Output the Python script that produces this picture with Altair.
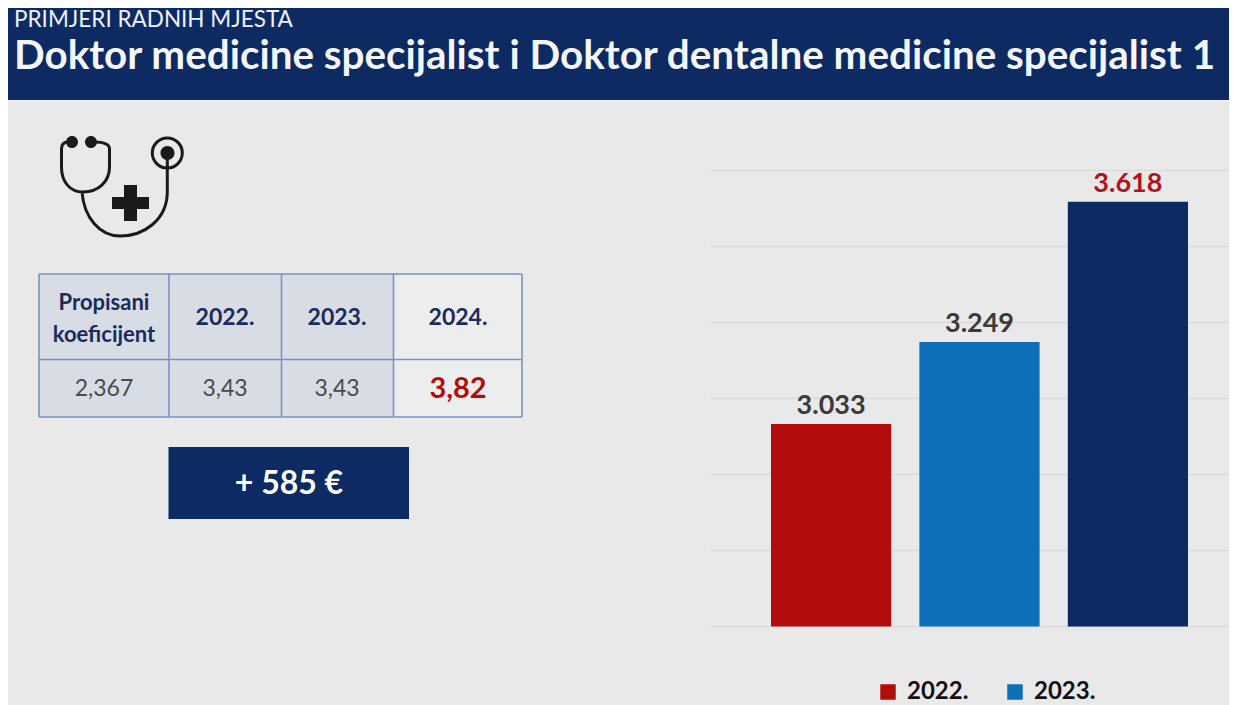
import altair as alt
import pandas as pd

years = ["2022.", "2023.", "2024."]
salaries = [3033, 3249, 3618]
axis_ticks = [2500, 2700, 2900, 3100, 3300, 3500, 3700]
table_header = ["2022.", "2023.", "2024."]
table_values = ["2,367", "3,43", "3,43", "3,82"]
subtitle = "PRIMJERI RADNIH MJESTA"
title = "Doktor medicine specijalist i Doktor dentalne medicine specijalist 1"
x_title = "BRUTO PLAĆA (u eurima)"
badge = "+ 585 €"

NAVY = "#0d2a63"
RED = "#b20d0d"
BLUE = "#0d6fb8"
BG = "#e9e9e9"
FONT = "Lato"
OFF = 8  # page margin
W = 1221
H = 697


def px(v):
    return alt.value(v - OFF)


def box(x0, x1, y0, y1, fill, stroke=None, sw=0):
    kw = {"fill": fill, "strokeWidth": sw}
    if stroke:
        kw["stroke"] = stroke
    return alt.Chart().mark_rect(**kw).encode(x=px(x0), x2=px(x1), y=px(y0), y2=px(y1))


def label(s, x, y, size, color, bold=False, align="center"):
    return alt.Chart().mark_text(
        text=s, font=FONT, fontSize=size, color=color, align=align, baseline="middle",
        fontWeight="bold" if bold else "normal",
    ).encode(x=px(x), y=px(y))


def line(x0, x1, y0, y1, color, sw):
    return alt.Chart().mark_rule(color=color, strokeWidth=sw).encode(
        x=px(x0), x2=px(x1), y=px(y0), y2=px(y1))


layers = [
    box(0, 1237, 0, 100, NAVY),
    box(0, 1237, 100, 102, "#eef0f6"),
    label(subtitle, 14, 20, 22.5, "#eef1f7", align="left"),
    label(title, 14, 57, 40.4, "#f4f6fa", bold=True, align="left"),
]

# stethoscope icon
ICON_LINES = ("M18 12 C13 12 11.5 15 11.5 19 L11.5 37 C11.5 52 20 62 33 62 "
              "C48 62 59.5 52 59.5 37 L59.5 19 C59.5 15 56 12 44 12 "
              "M32 62 C34 88 50 106 70 106 C94 106 117 90 117.3 62 L117.3 28 "
              "M102.3 23 A15 15 0 1 0 132.3 23 A15 15 0 1 0 102.3 23")
ICON_FILLS = ("M16 12 A6 6 0 1 0 28 12 A6 6 0 1 0 16 12 "
              "M35 12 A6 6 0 1 0 47 12 A6 6 0 1 0 35 12 "
              "M110.5 23 A7 7 0 1 0 124.5 23 A7 7 0 1 0 110.5 23 "
              "M74 55 L87 55 L87 67 L99 67 L99 79 L87 79 L87 91 L74 91 L74 79 L62 79 L62 67 L74 67 Z")
layers += [
    alt.Chart().mark_point(shape=ICON_LINES, size=4, filled=False, stroke="#1a1a1a",
                           strokeWidth=3, opacity=1).encode(x=px(50), y=px(130)),
    alt.Chart().mark_point(shape=ICON_FILLS, size=4, filled=True, fill="#1a1a1a",
                           stroke=None, opacity=1).encode(x=px(50), y=px(130)),
]

# table
cols = [39, 169, 281.5, 393.5, 522]
rows = [274, 359.5, 417]
CELL = "#d8dce5"
CELL_LIGHT = "#eceded"
BORDER = "#7d90bf"
for i in range(4):
    f = CELL_LIGHT if i == 3 else CELL
    layers.append(box(cols[i], cols[i + 1], rows[0], rows[2], f))
for c in cols:
    layers.append(line(c, c, rows[0], rows[2], BORDER, 1.6))
for r in rows:
    layers.append(line(cols[0], cols[-1], r, r, BORDER, 1.6))
HEAD = "#1b2b5e"
layers += [
    label("Propisani", 104, 303, 22, HEAD, bold=True),
    label("koeficijent", 104, 335, 22, HEAD, bold=True),
]
for cx, s in zip([225, 337, 458], table_header):
    layers.append(label(s, cx, 318, 23, HEAD, bold=True))
for cx, s in zip([104, 225, 337], table_values[:3]):
    layers.append(label(s, cx, 389, 23, "#4a4a4a"))
layers.append(label(table_values[3], 458, 389, 29, RED, bold=True))

# badge
layers += [box(168.5, 409, 447, 519, NAVY), label(badge, 289, 484, 32, "#ffffff", bold=True)]

# chart
df = pd.DataFrame({"year": years, "value": salaries})
df["text"] = [f"{v / 1000:.3f}" for v in salaries]
ticks = pd.DataFrame({"value": axis_ticks})

y_scale = alt.Scale(domain=[2500, 3700], range=[626.5 - OFF, 170.5 - OFF], nice=False, zero=False)
x_scale = alt.Scale(domain=years, range=[771 - OFF, 1188 - OFF], paddingInner=0.19, paddingOuter=0)
color_scale = alt.Scale(domain=years, range=[RED, BLUE, NAVY])

grid = alt.Chart(ticks).mark_rule(color="#dcdcdc", strokeWidth=1.5).encode(
    x=px(711), x2=px(1237), y=alt.Y("value:Q", scale=y_scale, axis=None))

axis_layer = alt.Chart(ticks).mark_text(opacity=0).encode(
    y=alt.Y("value:Q", scale=y_scale, axis=alt.Axis(
        title=None, values=axis_ticks, orient="right", offset=-(W - (689 - OFF)), domain=False,
        ticks=False, tickSize=0, grid=False, labelPadding=0, labelAlign="right", zindex=1,
        labelExpr="format(datum.value / 1000, '.3f')", labelFont=FONT, labelFontSize=22,
        labelFontWeight="bold", labelColor="#3f3f3f", labelOverlap=False)),
    text=alt.value(" "),
)

bars = alt.Chart(df).mark_bar().encode(
    x=alt.X("year:N", scale=x_scale, sort=years, axis=alt.Axis(
        title=x_title, orient="top", offset=-(655 - OFF - 10), labels=False, domain=False, ticks=False, tickSize=0,
        titlePadding=0, titleFont=FONT, titleFontSize=17, titleFontWeight="bold", titleColor="#1a1a1a", zindex=1)),
    y=alt.Y("value:Q", scale=y_scale, axis=None),
    y2=alt.datum(2500),
    color=alt.Color("year:N", scale=color_scale, legend=alt.Legend(
        values=["2022.", "2023."], title=None, orient="none", direction="horizontal",
        legendX=876 - OFF, legendY=680 - OFF, symbolType="square", symbolSize=240,
        symbolStrokeWidth=0, labelFont=FONT, labelFontSize=24, labelFontWeight="bold",
        labelColor="#111111", columnPadding=34, labelOffset=7)),
)

values = alt.Chart(df).mark_text(font=FONT, fontSize=27, fontWeight="bold", baseline="bottom", dy=-4).encode(
    x=alt.X("year:N", scale=x_scale, sort=years, axis=None),
    y=alt.Y("value:Q", scale=y_scale, axis=None),
    text="text:N",
    color=alt.condition(alt.datum.year == "2024.", alt.value("#b5121b"), alt.value("#3a3a3a")),
)

layers += [grid, axis_layer, bars, values]

chart = alt.layer(*layers).properties(
    width=W, height=H, padding=0, background=BG,
    autosize=alt.AutoSizeParams(type="none"),
).configure_view(stroke=None)

chart.save("out.html", embed_options={"renderer": "svg", "actions": False})
